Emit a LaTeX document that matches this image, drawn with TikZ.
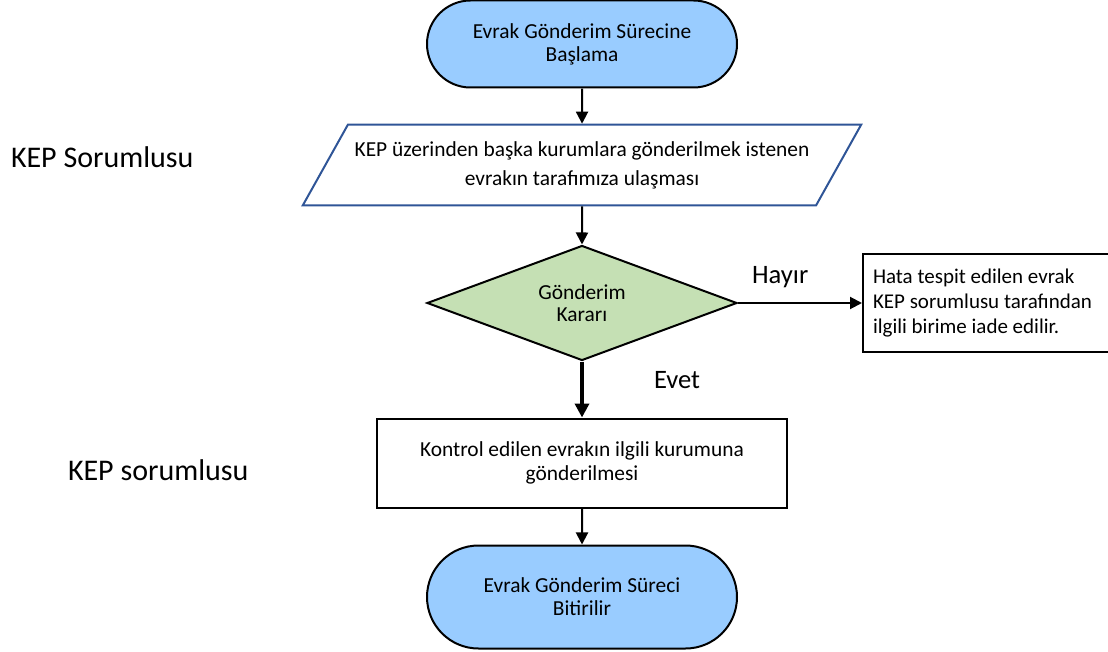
\documentclass[tikz,border=0pt]{standalone}
\usepackage{fontspec}
\setmainfont{Carlito}
\usetikzlibrary{arrows.meta, positioning, shapes.geometric, shapes.misc}

\definecolor{termblue}{RGB}{153,204,255}
\definecolor{ioblue}{RGB}{47,85,151}
\definecolor{decgreen}{RGB}{197,224,180}

\begin{document}
\begin{tikzpicture}[x=0.5pt, y=-0.5pt, >={Triangle[length=6pt, width=6pt]}, line width=1pt,
      term/.style={rounded rectangle, draw, fill=termblue, minimum width=155pt, inner sep=0pt, align=center, font=\fontsize{10.7}{11.6}\selectfont},
      io/.style={trapezium, trapezium stretches=true, trapezium left angle=61.5, trapezium right angle=118.5, draw=ioblue, minimum width=280pt, inner xsep=0pt, inner ysep=8.3pt, align=center, font=\fontsize{10.7}{14.5}\selectfont},
      dec/.style={diamond, aspect=2.7, draw, fill=decgreen, minimum width=155pt, minimum height=57.5pt, inner sep=0pt, align=center, font=\fontsize{10.7}{11}\selectfont},
      proc/.style={rectangle, draw, minimum width=205pt, minimum height=44.5pt, inner sep=0pt, align=center, font=\fontsize{10.7}{12}\selectfont},
      note/.style={rectangle, draw, text width=113pt, minimum height=48.5pt, inner sep=5pt, align=flush left, font=\fontsize{10.5}{12.5}\selectfont},
      lbl/.style={font=\fontsize{13.3}{16}\selectfont, inner sep=0pt},
      role/.style={font=\fontsize{15}{18}\selectfont, inner sep=0pt, anchor=west}]

    \useasboundingbox (0,0) rectangle (1108,652);

    \node[term, minimum height=43.5pt] (start) at (582, 44) {Evrak Gönderim Sürecine\\Başlama};
    \node[io]                          (recv)  at (582, 165) {KEP üzerinden başka kurumlara gönderilmek istenen\\evrakın tarafımıza ulaşması};
    \node[dec]                         (decide) at (582, 303) {Gönderim\\Kararı};
    \node[note, anchor=west]           (reject) at (862, 303) {Hata tespit edilen evrak\\KEP sorumlusu tarafından\\ilgili birime iade edilir.};
    \node[proc]                        (send)  at (582, 463) {Kontrol edilen evrakın ilgili kurumuna\\gönderilmesi};
    \node[term, minimum height=51.5pt] (finish) at (582, 597) {Evrak Gönderim Süreci\\Bitirilir};

    % roles on the left
    \node[role] (role1) at (10, 157) {KEP Sorumlusu};
    \node[role] (role2) at (67, 470) {KEP sorumlusu};

    \draw[->] (start) -- (recv);
    \draw[->] (recv)  -- (decide);
    \draw[->] (decide) -- node[lbl, pos=0.34, above=7pt] {Hayır} (reject);
    \draw[->, line width=2pt, >={Triangle[length=7pt, width=7pt]}] (decide) -- node[lbl, pos=0.33, right=35pt] {Evet} (send);
    \draw[->] (send)  -- (finish);

    \end{tikzpicture}
\end{document}
